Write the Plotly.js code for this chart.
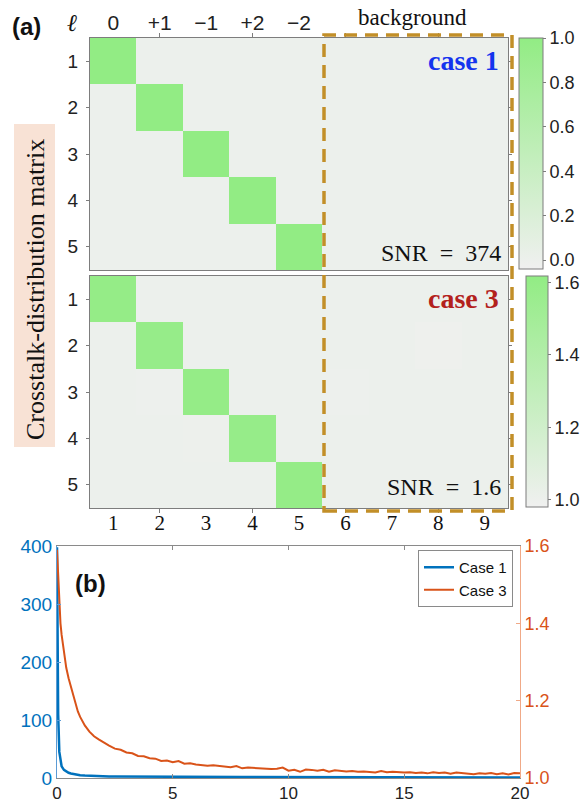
<!DOCTYPE html>
<html>
<head>
<meta charset="utf-8">
<script src="https://cdn.plot.ly/plotly-3.0.1.min.js"></script>
<style>
html,body{margin:0;padding:0;background:#fff;}
#chart{width:584px;height:808px;}
</style>
</head>
<body>
<div id="chart"></div>
<script>
// ---------- data ----------
const colIndex = [1, 2, 3, 4, 5, 6, 7, 8, 9];
const rowIndex = [1, 2, 3, 4, 5];
const modeLabels = ['0', '+1', '\u22121', '+2', '\u22122'];
const colLabels = ['1', '2', '3', '4', '5', '6', '7', '8', '9'];
const rowLabels = ['1', '2', '3', '4', '5'];

const case1Matrix = [
  [1.00, 0.00, 0.00, 0.00, 0.00, 0.00, 0.00, 0.00, 0.00],
  [0.00, 1.00, 0.00, 0.00, 0.00, 0.00, 0.00, 0.00, 0.00],
  [0.00, 0.00, 1.00, 0.00, 0.00, 0.00, 0.00, 0.00, 0.00],
  [0.00, 0.00, 0.00, 1.00, 0.00, 0.00, 0.00, 0.00, 0.00],
  [0.00, 0.00, 0.00, 0.00, 1.00, 0.00, 0.00, 0.00, 0.00]
];
const case3Matrix = [
  [1.60, 1.005, 1.004, 1.005, 1.004, 1.005, 1.004, 1.005, 1.004],
  [1.004, 1.59, 1.005, 1.004, 1.005, 1.004, 1.005, 0.995, 1.005],
  [1.005, 1.000, 1.60, 1.005, 1.004, 0.997, 1.004, 1.005, 1.004],
  [1.004, 1.005, 1.002, 1.59, 1.005, 1.004, 1.005, 1.004, 1.005],
  [1.005, 1.004, 1.005, 1.004, 1.60, 1.005, 1.004, 1.005, 1.004]
];
const case1Ticks = [0, 0.2, 0.4, 0.6, 0.8, 1.0];
const case1TickText = ['0.0', '0.2', '0.4', '0.6', '0.8', '1.0'];
const case3Ticks = [1.0, 1.2, 1.4, 1.6];
const case3TickText = ['1.0', '1.2', '1.4', '1.6'];

const tAxis = [0,0.02,0.05,0.1,0.15,0.2,0.3,0.4,0.5,0.6,0.7,0.8,0.9,1.0,1.2,1.4,1.6,1.8,2.0,
  2.25,2.5,2.75,3.0,3.25,3.5,3.75,4.0,4.25,4.5,4.75,5.0,5.25,5.5,5.75,6.0,6.25,6.5,6.75,7.0,
  7.25,7.5,7.75,8.0,8.25,8.5,8.75,9.0,9.25,9.5,9.75,10.0,10.25,10.5,10.75,11.0,11.25,11.5,11.75,12.0,
  12.25,12.5,12.75,13.0,13.25,13.5,13.75,14.0,14.25,14.5,14.75,15.0,15.25,15.5,15.75,16.0,
  16.25,16.5,16.75,17.0,17.25,17.5,17.75,18.0,18.25,18.5,18.75,19.0,19.25,19.5,19.75,20.0];
const snrCase1 = [398,250,110,45,28,20,14,11,9,7.8,6.8,6.0,5.4,4.9,4.2,3.7,3.3,3.0,2.8,
  2.7,2.6,2.5,2.4,2.3,2.25,2.2,2.1,2.05,2.0,
  1.95,1.9,1.88,1.85,1.8,1.78,1.75,1.72,1.7,1.68,
  1.65,1.62,1.6,1.58,1.56,1.55,1.53,1.5,1.48,1.47,
  1.45,1.43,1.42,1.4,1.38,1.37,1.35,1.34,1.33,1.32,
  1.3,1.29,1.28,1.27,1.26,1.25,1.24,1.23,1.22,1.21,
  1.2,1.19,1.18,1.17,1.16,1.15,1.14,1.13,1.12,1.11,
  1.1,1.09,1.08,1.07,1.06,1.05,1.04,1.03,1.02,1.01,
  1.0,1.0];
const snrCase3 = [1.59,1.56,1.51,1.44,1.40,1.37,1.32,1.285,1.258,1.235,1.212,1.19,1.172,1.158,1.136,1.12,1.108,1.100,1.092,
  1.084,1.076,1.073,1.066,1.064,1.057,1.056,1.051,1.050,1.044,
  1.045,1.041,1.044,1.037,1.038,1.035,1.034,1.032,1.033,1.031,
  1.029,1.028,1.031,1.025,1.027,1.026,1.025,1.024,1.023,1.024,
  1.027,1.019,1.021,1.016,1.022,1.021,1.019,1.021,1.016,1.020,
  1.019,1.017,1.018,1.016,1.017,1.015,1.014,1.018,1.015,1.016,
  1.015,1.014,1.015,1.013,1.014,1.012,1.015,1.013,1.014,1.011,
  1.014,1.013,1.012,1.010,1.012,1.011,1.013,1.010,1.012,1.009,
  1.013,1.012];
const leftTicks = [0, 100, 200, 300, 400];
const rightTicks = [1.0, 1.2, 1.4, 1.6];
const rightTickText = ['1.0', '1.2', '1.4', '1.6'];
const xTicksB = [0, 5, 10, 15, 20];

// ---------- helpers (pixel -> paper) ----------
const W = 584, H = 808;
const px = v => v / W;
const py = v => 1 - v / H;

const SANS = 'Liberation Sans, Arial, sans-serif';
const SERIF = 'Liberation Serif, Times New Roman, serif';
const FRAME = '#7d7d7d';
const greenScale = [[0, 'rgb(240,240,240)'], [1, 'rgb(146,236,132)']];

const heatTop = {
  type: 'heatmap', x: colIndex, y: rowIndex, z: case1Matrix,
  xaxis: 'x', yaxis: 'y', zmin: -0.04, zmax: 1, colorscale: greenScale,
  hoverinfo: 'skip',
  colorbar: {
    x: px(519), xanchor: 'left', y: py(38), yanchor: 'top',
    len: 231 / H, lenmode: 'fraction', thickness: 24, thicknessmode: 'pixels',
    xpad: 0, ypad: 0, outlinewidth: 1, outlinecolor: FRAME,
    tickmode: 'array', tickvals: case1Ticks, ticktext: case1TickText,
    ticks: 'outside', ticklen: 3, tickcolor: FRAME,
    tickfont: {family: SANS, size: 18, color: '#222'}
  }
};
const heatBottom = {
  type: 'heatmap', x: colIndex, y: rowIndex, z: case3Matrix,
  xaxis: 'x2', yaxis: 'y2', zmin: 0.98, zmax: 1.618, colorscale: greenScale,
  hoverinfo: 'skip',
  colorbar: {
    x: px(526), xanchor: 'left', y: py(276), yanchor: 'top',
    len: 231 / H, lenmode: 'fraction', thickness: 22, thicknessmode: 'pixels',
    xpad: 0, ypad: 0, outlinewidth: 1, outlinecolor: FRAME,
    tickmode: 'array', tickvals: case3Ticks, ticktext: case3TickText,
    ticks: 'outside', ticklen: 3, tickcolor: FRAME,
    tickfont: {family: SANS, size: 18, color: '#222'}
  }
};
const line1 = {
  type: 'scatter', mode: 'lines', name: 'Case 1', x: tAxis, y: snrCase1,
  xaxis: 'x3', yaxis: 'y3', line: {color: '#0072BD', width: 2.5}
};
const line3 = {
  type: 'scatter', mode: 'lines', name: 'Case 3', x: tAxis, y: snrCase3,
  xaxis: 'x3', yaxis: 'y4', line: {color: '#D95319', width: 2}
};

const heatX = [px(90), px(508)];
const minorTicks = {tickmode: 'array', tickvals: [2, 4, 6, 8], ticks: 'outside', ticklen: 4, tickcolor: FRAME, showgrid: false};

const layout = {
  width: W, height: H,
  margin: {l: 0, r: 0, t: 0, b: 0},
  paper_bgcolor: '#fff', plot_bgcolor: '#fff',
  showlegend: true,
  legend: {
    x: px(513), xanchor: 'right', y: py(550), yanchor: 'top',
    bgcolor: '#fff', bordercolor: '#8a8a8a', borderwidth: 1,
    font: {family: SANS, size: 15, color: '#111'},
    tracegroupgap: 0
  },
  xaxis: {
    domain: heatX, anchor: 'y', range: [0.5, 9.5], side: 'top',
    tickmode: 'array', tickvals: rowIndex, ticktext: modeLabels,
    ticks: '', showline: true, mirror: true, linecolor: FRAME, linewidth: 1,
    showgrid: false, zeroline: false, fixedrange: true,
    tickfont: {family: SANS, size: 21, color: '#222'},
    ticklabelstandoff: -1,
    minor: minorTicks
  },
  yaxis: {
    domain: [py(270), py(38)], anchor: 'x', range: [5.5, 0.5],
    tickmode: 'array', tickvals: rowIndex, ticktext: rowLabels,
    ticks: 'outside', ticklen: 3, tickcolor: FRAME,
    showline: true, mirror: 'ticks', linecolor: FRAME, linewidth: 1,
    showgrid: false, zeroline: false, fixedrange: true,
    tickfont: {family: SANS, size: 19, color: '#222'},
    ticklabelstandoff: 4
  },
  xaxis2: {
    domain: heatX, anchor: 'y2', range: [0.5, 9.5], side: 'bottom',
    tickmode: 'array', tickvals: colIndex, ticktext: colLabels,
    ticks: '', showline: true, mirror: true, linecolor: FRAME, linewidth: 1,
    showgrid: false, zeroline: false, fixedrange: true,
    tickfont: {family: SERIF, size: 21, color: '#111'},
    ticklabelstandoff: -4,
    minor: minorTicks
  },
  yaxis2: {
    domain: [py(508), py(276)], anchor: 'x2', range: [5.5, 0.5],
    tickmode: 'array', tickvals: rowIndex, ticktext: rowLabels,
    ticks: 'outside', ticklen: 3, tickcolor: FRAME,
    showline: true, mirror: 'ticks', linecolor: FRAME, linewidth: 1,
    showgrid: false, zeroline: false, fixedrange: true,
    tickfont: {family: SANS, size: 19, color: '#222'},
    ticklabelstandoff: 4
  },
  xaxis3: {
    domain: [px(57), px(520)], anchor: 'y3', range: [0, 20],
    tickmode: 'array', tickvals: xTicksB,
    ticks: 'inside', ticklen: 4, tickcolor: '#8a8a8a',
    showline: true, mirror: 'ticks', linecolor: '#8a8a8a', linewidth: 1,
    showgrid: false, zeroline: false, fixedrange: true,
    tickfont: {family: SANS, size: 17, color: '#222'}
  },
  yaxis3: {
    domain: [py(778), py(546)], anchor: 'x3', range: [0, 400],
    tickmode: 'array', tickvals: leftTicks,
    ticks: 'inside', ticklen: 4, tickcolor: '#5b9bd5',
    showline: true, linecolor: '#5b9bd5', linewidth: 1,
    showgrid: false, zeroline: false, fixedrange: true,
    tickfont: {family: SANS, size: 19, color: '#0072BD'}
  },
  yaxis4: {
    overlaying: 'y3', anchor: 'x3', side: 'right', range: [1.0, 1.6],
    tickmode: 'array', tickvals: rightTicks, ticktext: rightTickText,
    ticks: 'inside', ticklen: 4, tickcolor: '#f0a987',
    showline: true, linecolor: '#f0a987', linewidth: 1,
    showgrid: false, zeroline: false, fixedrange: true,
    tickfont: {family: SANS, size: 18, color: '#D95319'}
  },
  shapes: [
    {type: 'rect', xref: 'paper', yref: 'paper', x0: px(14), x1: px(55), y0: py(447), y1: py(124),
     fillcolor: '#f8e2d5', line: {width: 0}, layer: 'below'},
    {type: 'rect', xref: 'paper', yref: 'paper', x0: px(324), x1: px(512), y0: py(511), y1: py(35),
     fillcolor: 'rgba(0,0,0,0)', line: {color: '#c28f28', width: 3.5, dash: '13px,8px'}, layer: 'above'}
  ],
  annotations: [
    {text: '<b>(a)</b>', x: px(26), y: py(26), xref: 'paper', yref: 'paper', showarrow: false,
     xanchor: 'center', yanchor: 'middle', font: {family: SANS, size: 24, color: '#111'}},
    {text: '<i>\u2113</i>', x: px(72), y: py(23), xref: 'paper', yref: 'paper', showarrow: false,
     xanchor: 'center', yanchor: 'middle', font: {family: SERIF, size: 24, color: '#111'}},
    {text: 'background', x: px(412), y: py(17), xref: 'paper', yref: 'paper', showarrow: false,
     xanchor: 'center', yanchor: 'middle', font: {family: SERIF, size: 23, color: '#111'}},
    {text: '<b>case 1</b>', x: px(501), y: py(61), xref: 'paper', yref: 'paper', showarrow: false,
     xanchor: 'right', yanchor: 'middle', font: {family: SERIF, size: 28, color: '#1434ee'}},
    {text: '<b>case 3</b>', x: px(501), y: py(298), xref: 'paper', yref: 'paper', showarrow: false,
     xanchor: 'right', yanchor: 'middle', font: {family: SERIF, size: 28, color: '#b3211c'}},
    {text: 'SNR\u2002=\u2002374', x: px(503), y: py(253), xref: 'paper', yref: 'paper', showarrow: false,
     xanchor: 'right', yanchor: 'middle', font: {family: SERIF, size: 24, color: '#111'}},
    {text: 'SNR\u2002=\u20021.6', x: px(503), y: py(487), xref: 'paper', yref: 'paper', showarrow: false,
     xanchor: 'right', yanchor: 'middle', font: {family: SERIF, size: 24, color: '#111'}},
    {text: 'Crosstalk-distribution matrix', x: px(35), y: py(290), xref: 'paper', yref: 'paper', showarrow: false,
     textangle: -90, xanchor: 'center', yanchor: 'middle', font: {family: SERIF, size: 26, color: '#111'}},
    {text: '<b>(b)</b>', x: px(90), y: py(583), xref: 'paper', yref: 'paper', showarrow: false,
     xanchor: 'center', yanchor: 'middle', font: {family: SANS, size: 24, color: '#111'}}
  ]
};

Plotly.newPlot('chart', [heatTop, heatBottom, line1, line3], layout, {displayModeBar: false, staticPlot: true});
</script>
</body>
</html>
